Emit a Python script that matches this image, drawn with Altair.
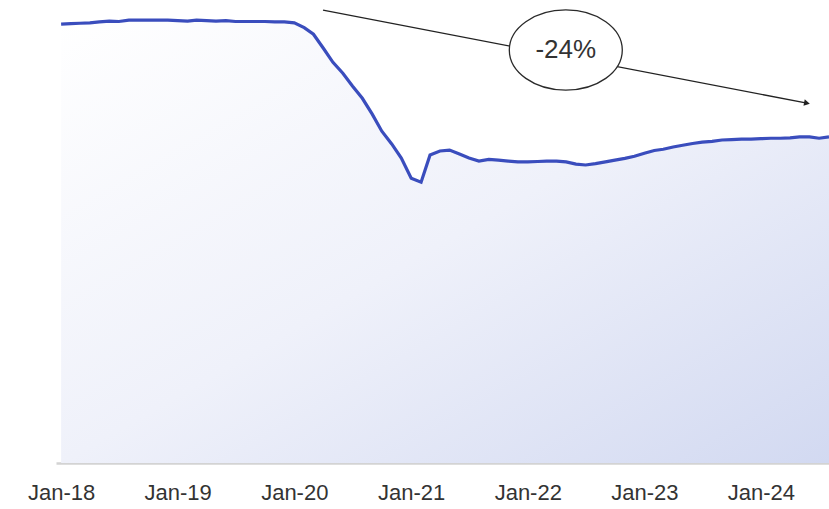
import altair as alt
import pandas as pd

# Monthly index values, Jan 2018 .. Aug 2024
values = [
    100.0, 100.1, 100.2, 100.3, 100.5, 100.7, 100.6, 100.9, 100.9, 100.9, 100.9, 100.9,
    100.8, 100.7, 100.9, 100.8, 100.7, 100.8, 100.6, 100.6, 100.6, 100.6, 100.5, 100.5,
    100.3, 99.2, 97.7, 94.5, 91.3, 88.8, 85.9, 83.1, 79.5, 75.6, 72.7, 69.5,
    64.9, 64.0, 70.2, 71.1, 71.3, 70.4, 69.5, 68.8, 69.2, 69.0, 68.8, 68.6,
    68.6, 68.7, 68.8, 68.8, 68.6, 68.1, 67.9, 68.2, 68.6, 69.0, 69.4, 69.9,
    70.6, 71.2, 71.5, 72.0, 72.4, 72.8, 73.1, 73.3, 73.6, 73.7, 73.8, 73.8,
    73.9, 74.0, 74.0, 74.1, 74.3, 74.3, 74.0, 74.3,
]
dates = pd.date_range("2018-01-01", periods=len(values), freq="MS")
tick_dates = ["2018-01-01", "2019-01-01", "2020-01-01", "2021-01-01",
              "2022-01-01", "2023-01-01", "2024-01-01"]

# Annotation
arrow_start = ("2020-03-31", 103.2)
arrow_end = ("2024-05-24", 82.0)
label_pos = ("2022-04-30", 94.1)
label_text = "-24%"

df = pd.DataFrame({"date": dates, "value": values})
arrow_df = pd.DataFrame({"d1": [arrow_start[0]], "v1": [arrow_start[1]],
                         "d2": [arrow_end[0]], "v2": [arrow_end[1]]})
head_df = pd.DataFrame({"d": [arrow_end[0]], "v": [arrow_end[1]]})
lab_df = pd.DataFrame({"d": [label_pos[0]], "v": [label_pos[1]], "t": [label_text]})

xscale = alt.Scale(domain=["2017-12-16", "2024-08-01"], range=[56, 829])
yscale = alt.Scale(domain=[0, 105.5], range=[463, 0], nice=False, zero=True)

xaxis = alt.Axis(values=tick_dates, format="%b-%y", title=None, ticks=False,
                 grid=False, domainColor="#d3d3d3", domainWidth=2.5,
                 labelFontSize=22, labelColor="#333333", labelFont="Liberation Sans",
                 labelPadding=19, labelFlush=False)

grad = alt.Gradient(gradient="linear",
                    stops=[alt.GradientStop(color="#ffffff", offset=0),
                           alt.GradientStop(color="#eff1fa", offset=0.5),
                           alt.GradientStop(color="#d2d9f1", offset=1)],
                    x1=0, y1=0, x2=1, y2=1)

area = alt.Chart(df).mark_area(color=grad, interpolate="linear").encode(
    x=alt.X("date:T", scale=xscale, axis=xaxis),
    y=alt.Y("value:Q", scale=yscale, axis=None),
)
line = alt.Chart(df).mark_line(color="#3a4dbd", strokeWidth=3.2).encode(
    x=alt.X("date:T", scale=xscale),
    y=alt.Y("value:Q", scale=yscale),
)
arrow = alt.Chart(arrow_df).mark_rule(color="#222222", strokeWidth=1.3).encode(
    x="d1:T", y="v1:Q", x2="d2:T", y2="v2:Q"
)
head = alt.Chart(head_df).mark_point(shape="triangle-right", filled=True,
                                     color="#222222", size=45, angle=11, opacity=1).encode(
    x="d:T", y="v:Q"
)
ellipse = alt.Chart(lab_df).mark_point(
    shape="M-1,0A1,0.71,0,1,1,1,0A1,0.71,0,1,1,-1,0Z",
    size=12769, fill="#ffffff", fillOpacity=1, stroke="#2a2a2a", strokeWidth=1.3,
    opacity=1,
).encode(x="d:T", y="v:Q")
text = alt.Chart(lab_df).mark_text(fontSize=26, color="#333333", font="Liberation Sans",
                                   baseline="middle", align="center").encode(
    x="d:T", y="v:Q", text="t:N"
)

chart = alt.layer(area, line, arrow, head, ellipse, text).properties(
    width=829, height=463,
    background="#ffffff",
    autosize=alt.AutoSizeParams(type="none"),
    padding={"left": 0, "top": 0, "right": 0, "bottom": 46},
).configure_view(stroke=None, strokeWidth=0)

chart.save("out.html", embed_options={"renderer": "svg", "actions": False})
